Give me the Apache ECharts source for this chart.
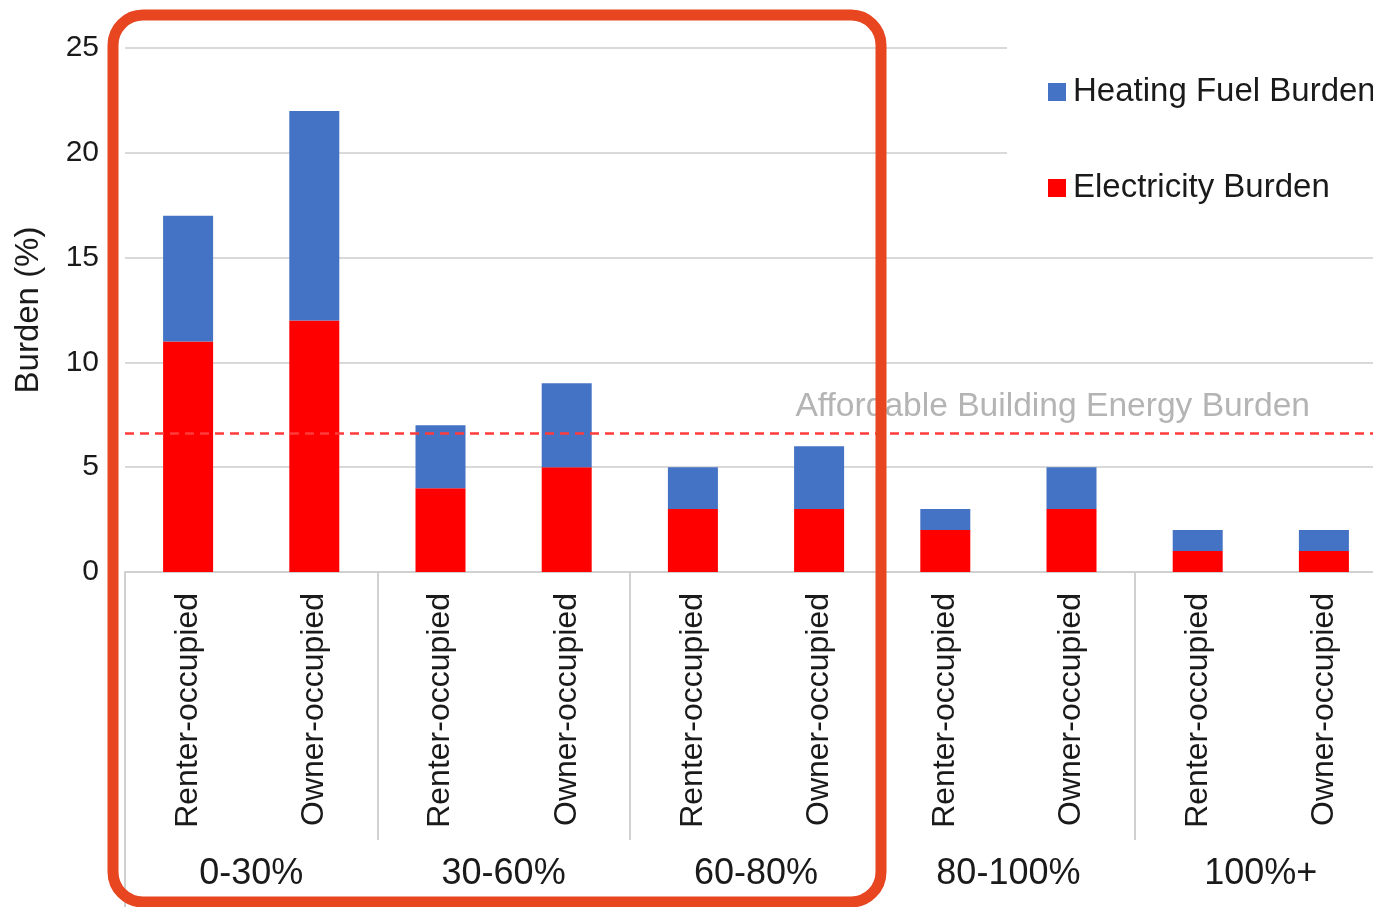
<!DOCTYPE html>
<html>
<head>
<meta charset="utf-8">
<script src="https://cdn.jsdelivr.net/npm/echarts@6/dist/echarts.min.js"></script>
<style>
  html, body { margin: 0; padding: 0; background: #ffffff; }
  #chart { width: 1373px; height: 907px; }
</style>
</head>
<body>
<div id="chart"></div>
<script>
// Tenure types within each income band
const tenureLabels = [
  'Renter-occupied', 'Owner-occupied',
  'Renter-occupied', 'Owner-occupied',
  'Renter-occupied', 'Owner-occupied',
  'Renter-occupied', 'Owner-occupied',
  'Renter-occupied', 'Owner-occupied'
];
// Income bands (share of area median income)
const incomeBands = ['0-30%', '30-60%', '60-80%', '80-100%', '100%+'];

// Burden values, percent of household income
const electricityBurden = [11, 12, 4, 5, 3, 3, 2, 3, 1, 1];
const heatingFuelBurden = [6, 10, 3, 4, 2, 3, 1, 2, 1, 1];

// Affordability threshold
const affordableBurden = 6.6;
const affordableLabel = 'Affordable Building Energy Burden';

const yTicks = { min: 0, max: 25, interval: 5 };

const FONT = 'Liberation Sans, Arial, Helvetica, sans-serif';
const axisGray = '#d0d0d0';

const chart = echarts.init(document.getElementById('chart'), null, { renderer: 'canvas' });

chart.setOption({
  backgroundColor: '#ffffff',
  animation: false,
  textStyle: { fontFamily: FONT },
  grid: {
    left: 125, right: -14, top: 48, bottom: 335,
    containLabel: false,
    outerBoundsMode: 'none'
  },
  legend: {
    orient: 'vertical',
    left: 1007,
    top: 42,
    padding: [30, 40, 30, 41],
    backgroundColor: '#ffffff',
    itemWidth: 18,
    itemHeight: 18,
    itemGap: 56,
    icon: 'rect',
    data: ['Heating Fuel Burden', 'Electricity Burden'],
    textStyle: { fontSize: 33, color: '#1a1a1a', fontFamily: FONT, lineHeight: 40, padding: [0, 0, 0, 2] }
  },
  xAxis: [
    {
      type: 'category',
      data: tenureLabels,
      boundaryGap: true,
      axisLine: { show: true, lineStyle: { color: axisGray, width: 2 } },
      axisTick: { show: false },
      axisLabel: {
        rotate: 90,
        interval: 0,
        margin: 21,
        fontSize: 32,
        color: '#1a1a1a',
        fontFamily: FONT
      }
    },
    {
      type: 'category',
      data: incomeBands,
      position: 'bottom',
      offset: 268,
      boundaryGap: true,
      axisLine: { show: false },
      axisTick: {
        show: true,
        inside: true,
        length: 268,
        lineStyle: { color: axisGray, width: 2 }
      },
      axisLabel: { interval: 0, margin: 16, fontSize: 36, color: '#1a1a1a', fontFamily: FONT },
      splitLine: { show: false }
    }
  ],
  yAxis: {
    type: 'value',
    min: yTicks.min,
    max: yTicks.max,
    interval: yTicks.interval,
    name: 'Burden (%)',
    nameLocation: 'middle',
    nameRotate: 90,
    nameGap: 80,
    nameTextStyle: { fontSize: 33, color: '#1a1a1a', fontFamily: FONT },
    axisLine: { show: false },
    axisTick: { show: false },
    axisLabel: { margin: 26, fontSize: 30, color: '#1a1a1a', fontFamily: FONT },
    splitLine: { show: true, lineStyle: { color: '#d9d9d9', width: 2 } }
  },
  series: [
    {
      name: 'Electricity Burden',
      type: 'bar',
      stack: 'burden',
      barWidth: 50,
      data: electricityBurden,
      itemStyle: { color: '#ff0000' },
      markLine: {
        silent: true,
        symbol: 'none',
        data: [{ yAxis: affordableBurden }],
        lineStyle: { color: '#ff3b3b', type: [9, 6], width: 2.5 },
        label: {
          show: true,
          position: 'insideEndTop',
          formatter: affordableLabel,
          distance: [77, 10],
          fontSize: 33.6,
          color: '#b4b4b4',
          fontFamily: FONT
        },
        z: 3
      }
    },
    {
      name: 'Heating Fuel Burden',
      type: 'bar',
      stack: 'burden',
      barWidth: 50,
      data: heatingFuelBurden,
      itemStyle: { color: '#4472c4' }
    }
  ],
  graphic: [
    {
      type: 'line',
      shape: { x1: 125, y1: 572, x2: 125, y2: 907 },
      style: { stroke: axisGray, lineWidth: 2 },
      z: 5
    },
    {
      type: 'rect',
      shape: { x: 113, y: 15, width: 768, height: 887, r: 30 },
      style: { fill: 'none', stroke: '#e84521', lineWidth: 11 },
      z: 100
    }
  ]
});
</script>
</body>
</html>
